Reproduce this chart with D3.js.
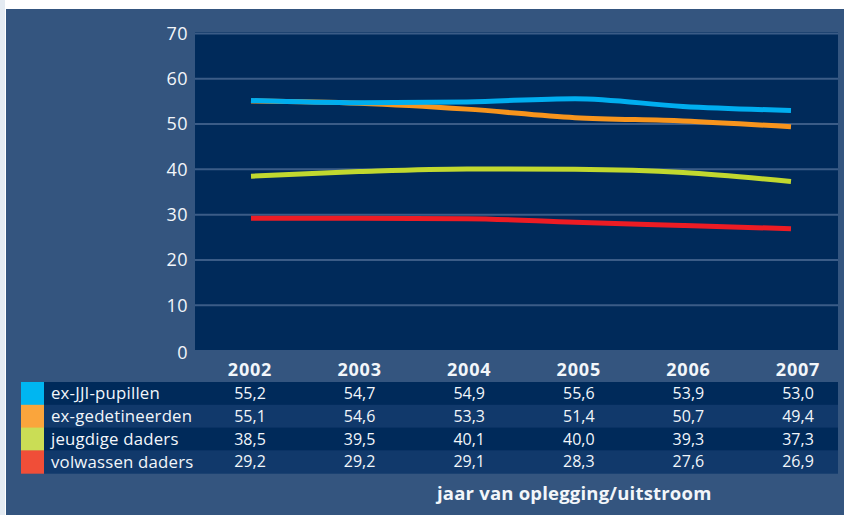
<!DOCTYPE html>
<html>
<head>
<meta charset="utf-8">
<script src="https://cdn.jsdelivr.net/npm/d3@7"></script>
<style>
  html, body { margin: 0; padding: 0; background: #ffffff; }
  svg { display: block; }
  text { font-family: "Open Sans", "DejaVu Sans", sans-serif; fill: #f2f6fa; }
</style>
</head>
<body>
<div id="chart"></div>
<script>
// jaren en reeksen
var years = ["2002", "2003", "2004", "2005", "2006", "2007"];
var seriesNames = ["ex-JJI-pupillen", "ex-gedetineerden", "jeugdige daders", "volwassen daders"];
var jjiValues = [55.2, 54.7, 54.9, 55.6, 53.9, 53.0];
var gedetValues = [55.1, 54.6, 53.3, 51.4, 50.7, 49.4];
var jeugdValues = [38.5, 39.5, 40.1, 40.0, 39.3, 37.3];
var volwValues = [29.2, 29.2, 29.1, 28.3, 27.6, 26.9];
var yTicks = [0, 10, 20, 30, 40, 50, 60, 70];
var axisTitle = "jaar van oplegging/uitstroom";

(function () {
    var width = 848;
    var height = 515;
    var plotLeft = 195, plotRight = 838, plotTop = 32, plotBottom = 350;
    var lineColors = ["#00aeef", "#f7941d", "#c1d82f", "#ed1c24"];
    var swatchColors = ["#00b6f1", "#faa53c", "#cadd55", "#f04e38"];
    var rowTop = 382, rowH = 22.8;

    var series = [jjiValues, gedetValues, jeugdValues, volwValues].map(function (v, i) {
        return { name: seriesNames[i], values: v, color: lineColors[i], swatch: swatchColors[i] };
    });

    var svg = d3.select("#chart").append("svg").attr("width", width).attr("height", height);

    // achtergrond
    svg.append("rect").attr("x", 0).attr("y", 0).attr("width", 5).attr("height", height).attr("fill", "#e4ebf2");
    svg.append("rect").attr("x", 6).attr("y", 9).attr("width", 838).attr("height", height - 9).attr("fill", "#34557f");
    svg.append("rect").attr("x", plotLeft).attr("y", plotTop)
        .attr("width", plotRight - plotLeft).attr("height", plotBottom - plotTop).attr("fill", "#002a5a");

    var y = d3.scaleLinear().domain([0, 70]).range([350.5, 33.5]);
    var xLine = d3.scalePoint().domain(years).range([251, 791]);
    var xCol = d3.scalePoint().domain(years).range([250, 798]);

    // rasterlijnen
    svg.append("g").selectAll("line").data(yTicks.filter(function (d) { return d > 0; }))
        .join("line")
        .attr("x1", plotLeft).attr("x2", plotRight)
        .attr("y1", function (d) { return y(d); }).attr("y2", function (d) { return y(d); })
        .attr("stroke", "#3b5c87").attr("stroke-width", 2);

    // y-as labels
    svg.append("g").selectAll("text").data(yTicks)
        .join("text")
        .attr("x", 188)
        .attr("y", function (d) { return d === 0 ? y(d) + 2 : y(d); })
        .attr("dy", "0.35em")
        .attr("text-anchor", "end")
        .attr("font-size", 18)
        .attr("letter-spacing", 0.5)
        .text(function (d) { return d; });

    // lijnen
    var line = d3.line()
        .x(function (d, i) { return xLine(years[i]); })
        .y(function (d) { return y(d); })
        .curve(d3.curveMonotoneX);

    svg.append("g").selectAll("path").data(series.slice().reverse())
        .join("path")
        .attr("d", function (d) { return line(d.values); })
        .attr("fill", "none")
        .attr("stroke", function (d) { return d.color; })
        .attr("stroke-width", 5);

    // jaartallen
    svg.append("g").selectAll("text").data(years)
        .join("text")
        .attr("x", function (d) { return xCol(d); })
        .attr("y", 376)
        .attr("text-anchor", "middle")
        .attr("font-size", 18)
        .attr("letter-spacing", 0.8)
        .attr("font-weight", "bold")
        .text(function (d) { return d; });

    // tabel
    var rows = svg.append("g").selectAll("g").data(series).join("g")
        .attr("transform", function (d, i) { return "translate(0," + (rowTop + i * rowH) + ")"; });

    rows.append("rect")
        .attr("x", 44).attr("y", 0).attr("width", plotRight - 44).attr("height", rowH + 0.5)
        .attr("fill", function (d, i) { return i % 2 === 0 ? "#002a5a" : "#11396b"; });
    rows.append("rect")
        .attr("x", 21).attr("y", 0).attr("width", 23).attr("height", rowH + 0.5)
        .attr("fill", function (d) { return d.swatch; });
    rows.append("text")
        .attr("x", 51).attr("y", rowH / 2).attr("dy", "0.35em")
        .attr("font-size", 16.8)
        .attr("letter-spacing", 0.2)
        .text(function (d) { return d.name; });
    rows.selectAll("text.val").data(function (d) { return d.values; })
        .join("text").attr("class", "val")
        .attr("x", function (d, i) { return xCol(years[i]); })
        .attr("y", rowH / 2).attr("dy", "0.35em")
        .attr("text-anchor", "middle")
        .attr("font-size", 16)
        .text(function (d) { return d.toFixed(1).replace(".", ","); });

    // as-titel
    svg.append("text")
        .attr("x", 437).attr("y", 500)
        .attr("font-size", 18.5)
        .attr("letter-spacing", 0.2)
        .attr("font-weight", "bold")
        .text(axisTitle);
})();
</script>
</body>
</html>
